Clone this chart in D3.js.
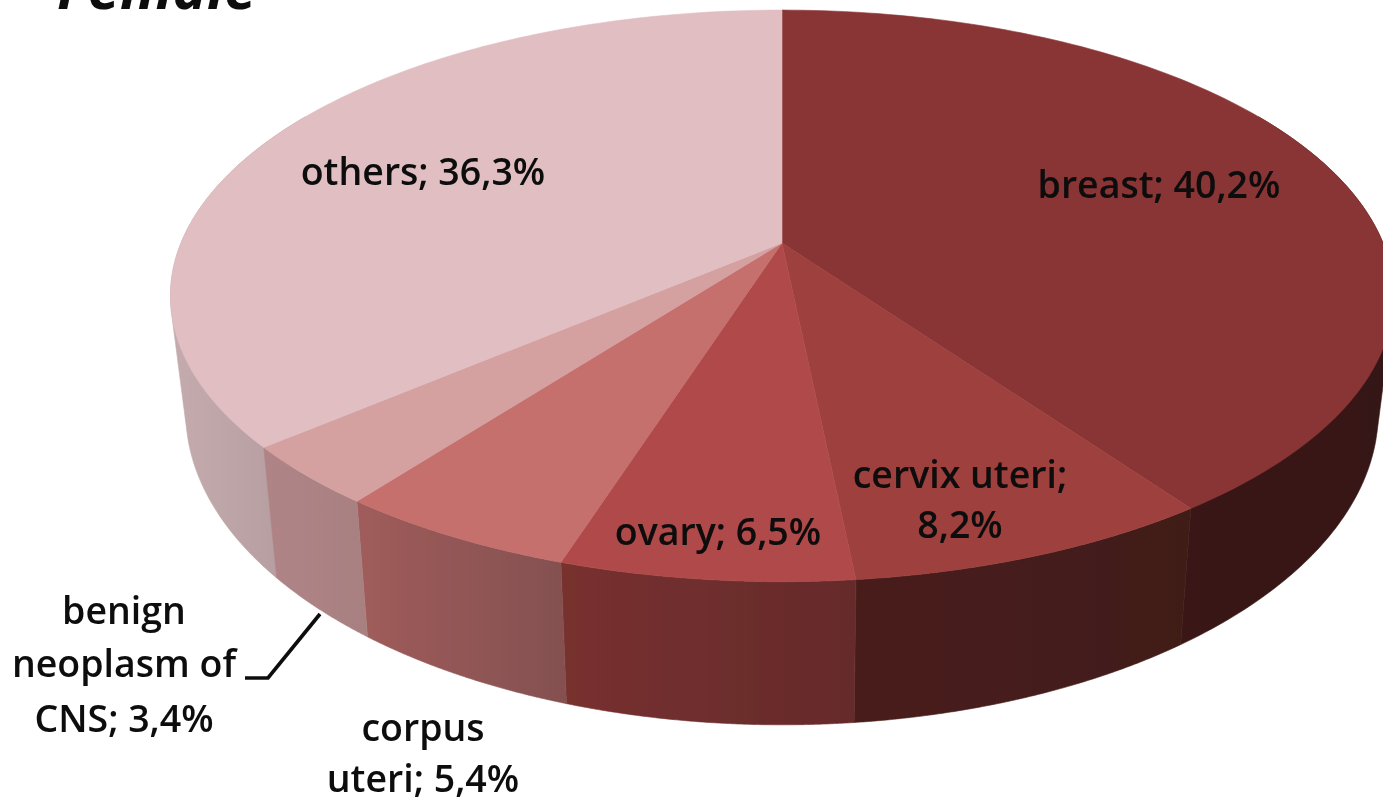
<!DOCTYPE html>
<html><head><meta charset="utf-8">
<script src="https://cdn.jsdelivr.net/npm/d3@7"></script>
<style>html,body{margin:0;padding:0;background:#fff;overflow:hidden}svg{display:block}
text{font-family:"Open Sans",Lato,sans-serif;fill:#0a0a0a}</style></head><body>
<svg id="c" width="1383" height="800"></svg>
<script>
const categories=["breast","cervix uteri","ovary","corpus uteri","benign neoplasm of CNS","others"];
const values=[40.2,8.2,6.5,5.4,3.4,36.3];
const topColors=["#8a3535","#9e403e","#b04a48","#c56f6d","#d5a0a0","#e0bec2"];
const sideLeft=["#3a1714","#4a1e1c","#78302f","#a05c5b","#b08487","#c5abae"];
const sideRight=["#361513","#411a19","#652b2b","#845050","#a88080","#b79fa1"];
const labelLines=[["breast; 40,2%"],["cervix uteri;","8,2%"],["ovary; 6,5%"],["corpus","uteri; 5,4%"],["benign","neoplasm of","CNS; 3,4%"],["others; 36,3%"]];
const labelX=[1159,960,718,423,124,423];
const labelY=[[198],[488,538],[545],[741,792],[624,677,732],[185]];

const svg=d3.select("#c"),defs=svg.append("defs");
defs.append("filter").attr("id","soft").append("feGaussianBlur").attr("stdDeviation",0.55);
const cx=782,cy=243,a=601,b=276,p=0.185,lowScale=0.975,lowK=1.095,lowY=354;
const xT=d3.scaleLinear().domain([0,1]).range([cx,cx+a]);
const yT=d3.scaleLinear().domain([0,1]).range([cy,cy+b]);
const project=t=>{const u=Math.sin(t),v=-Math.cos(t),w=1-p*v;return [xT(u/w),yT(v/w)];};
const lower=t=>{const [x,y]=project(t);return [cx+lowScale*(x-cx),lowY+lowK*(y-cy)];};
const arcs=d3.pie().sort(null).value(d=>d)(values);
const line=d3.line();
const sample=(t0,t1)=>d3.range(0,121).map(i=>t0+(t1-t0)*i/120);
const visA=Math.PI/3,visB=Math.PI*5/3;

const art=svg.append("g").attr("filter","url(#soft)");
const sides=art.append("g"),tops=art.append("g");
[0,5,1,2,3,4].forEach(i=>{
  const d=arcs[i],outer=i===0||i===5;
  const t0=Math.max(d.startAngle,visA),t1=Math.min(d.endAngle,visB);
  const ts=sample(t0,t1);
  const up=ts.map(project),lo=ts.map(lower);
  const poly=outer?d3.polygonHull(up.concat(lo)):up.concat(lo.slice().reverse());
  const [x0,x1]=d3.extent(up.concat(lo),q=>q[0]);
  const g=defs.append("linearGradient").attr("id","g"+i).attr("gradientUnits","userSpaceOnUse")
    .attr("x1",i===0?1180:x0).attr("x2",i===5?278:x1).attr("y1",0).attr("y2",0);
  g.append("stop").attr("offset",0).attr("stop-color",sideLeft[i]);
  g.append("stop").attr("offset",1).attr("stop-color",sideRight[i]);
  sides.append("path").attr("d",line(poly)+"Z").attr("fill",`url(#g${i})`).attr("stroke",`url(#g${i})`).attr("stroke-width",0.6);
});
arcs.forEach((d,i)=>{
  const pts=[[cx,cy]].concat(sample(d.startAngle,d.endAngle).map(project));
  tops.append("path").attr("d",line(pts)+"Z").attr("fill",topColors[i]).attr("stroke",topColors[i]).attr("stroke-width",0.6);
});

const over=svg.append("g").attr("filter","url(#soft)");
over.append("path").attr("d",line([[320,614],[268,678],[245,678]])).attr("fill","none").attr("stroke","#0a0a0a").attr("stroke-width",3.6);
const labels=over.append("g").attr("text-anchor","middle").style("font-size","37.5px").style("font-weight",600);
labelLines.forEach((ls,i)=>ls.forEach((s,k)=>labels.append("text").attr("x",labelX[i]).attr("y",labelY[i][k]).text(s)));
over.append("text").attr("x",57).attr("y",9).style("font-size","58px").style("font-weight",700).style("font-style","italic").text("Female");
</script></body></html>
